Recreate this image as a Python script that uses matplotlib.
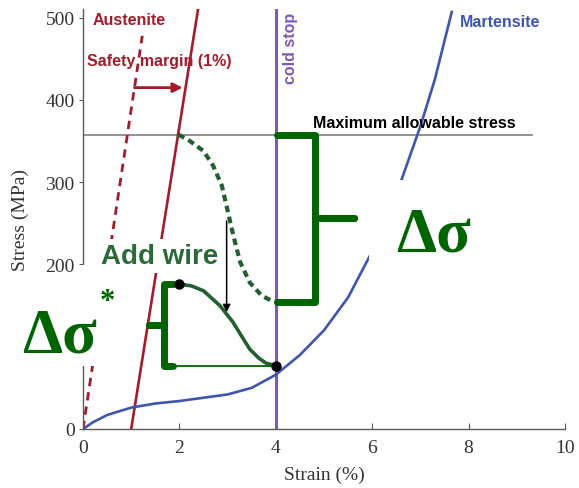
import matplotlib
matplotlib.use("Agg")
import matplotlib.pyplot as plt
from matplotlib.patches import Rectangle

# ---- data -------------------------------------------------------------
# Martensite stress-strain curve
mart_strain = [0, 0.2, 0.5, 1.0, 1.5, 2.0, 2.5, 3.0, 3.5, 4.0, 4.5, 5.0,
               5.5, 6.0, 6.5, 7.0, 7.3, 7.65]
mart_stress = [0, 8, 17, 26, 31, 34, 38, 42, 50, 66, 90, 120,
               160, 216, 285, 368, 425, 507]

# Austenite (shifted by the 1 % safety margin) and original austenite line
aust_strain = [1.0, 2.386]
aust_stress = [0, 510]
aust0_strain = [0, 1.23]
aust0_stress = [0, 478]

# Unloading path without the added wire (dashed)
path_strain = [1.98, 2.22, 2.5, 2.7, 2.88, 3.01, 3.12, 3.26, 3.46, 3.71, 3.91, 4.0]
path_stress = [358, 350, 338, 320, 296, 263, 235, 203, 178, 162, 156, 155]

# Unloading path with the added wire (solid)
wire_strain = [2.0, 2.25, 2.5, 2.84, 3.11, 3.3, 3.46, 3.65, 3.8, 4.0]
wire_stress = [176, 174, 168, 150, 130, 112, 97, 86, 80, 77]

max_stress = 358      # maximum allowable stress (MPa)
cold_stop = 4.0       # cold stop strain (%)
margin_stress = 415   # level of the safety-margin arrow
add_arrow_x = 2.98
add_arrow_stress = [253, 142]

xticks = [0, 2, 4, 6, 8, 10]
yticks = [0, 100, 200, 300, 400, 500]
ytick_labels = ["0", "", "200", "300", "400", "500"]

# ---- styling ----------------------------------------------------------
RED = "#a31c2b"
BLUE = "#3f55b0"
PURPLE = "#8058b8"
GREEN = "#006400"
DKGREEN = "#235f30"
TXTGREEN = "#2b6a36"
SERIF = ["Liberation Serif", "DejaVu Serif"]
SANS = ["Liberation Sans", "DejaVu Sans"]

fig = plt.figure(figsize=(5.79, 4.89), dpi=100)
ax = fig.add_axes([83 / 579, 1 - 430 / 489, 482 / 579, 0.8579])
ax.set_xlim(0, 10)
ax.set_ylim(0, 510)

for s in ("top", "right"):
    ax.spines[s].set_visible(False)
for s in ("left", "bottom"):
    ax.spines[s].set_color("#5a5a5a")
    ax.spines[s].set_linewidth(1.0)

ax.set_xticks(xticks)
ax.set_yticks(yticks)
ax.set_yticklabels(ytick_labels)
ax.tick_params(axis="x", direction="in", length=4, color="#5a5a5a",
               labelsize=14, labelcolor="#333333", pad=7)
ax.tick_params(axis="y", direction="out", length=3, color="#5a5a5a",
               labelsize=14, labelcolor="#333333", pad=3)
for lab in ax.get_xticklabels() + ax.get_yticklabels():
    lab.set_family(SERIF)
ax.set_xlabel("Strain (%)", family=SERIF, fontsize=14, color="#333333", labelpad=7)
ax.set_ylabel("Stress (MPa)", family=SERIF, fontsize=14, color="#333333", labelpad=12)

# maximum allowable stress
ax.plot([0, 9.32], [max_stress, max_stress], color="#7f7f7f", lw=1.2, zorder=1)

# cold stop
ax.axvline(cold_stop, color=PURPLE, lw=2.2, zorder=2)

# austenite lines
ax.plot(aust_strain, aust_stress, color=RED, lw=1.9, zorder=2)
ax.plot(aust0_strain, aust0_stress, color=RED, lw=2.0, ls=(0, (3, 2.2)), zorder=2)

# martensite curve
ax.plot(mart_strain, mart_stress, color=BLUE, lw=1.9, zorder=2)

# unloading paths
ax.plot(path_strain, path_stress, color=DKGREEN, lw=3.0, ls=(0, (1.6, 1.1)), zorder=3)
ax.plot(wire_strain, wire_stress, color=DKGREEN, lw=2.6, zorder=3)
ax.plot([1.85, wire_strain[-1]], [wire_stress[-1], wire_stress[-1]],
        color=GREEN, lw=1.3, zorder=3)
ax.plot([wire_strain[0], wire_strain[-1]], [wire_stress[0], wire_stress[-1]],
        ls="none", marker="o", ms=6.5, color="black", zorder=6)

# safety margin arrow (from original to shifted austenite line)
e0 = aust0_stress[1] / aust0_strain[1]
e1 = aust_stress[1] / (aust_strain[1] - aust_strain[0])
ax.annotate("", xy=(aust_strain[0] + margin_stress / e1 - 0.06, margin_stress),
            xytext=(margin_stress / e0, margin_stress),
            arrowprops=dict(arrowstyle="-|>", color=RED, lw=2.0,
                            mutation_scale=14, shrinkA=0, shrinkB=0), zorder=4)

# arrow showing the effect of the added wire
ax.annotate("", xy=(add_arrow_x, add_arrow_stress[1]),
            xytext=(add_arrow_x, add_arrow_stress[0]),
            arrowprops=dict(arrowstyle="-|>", color="black", lw=1.1,
                            mutation_scale=11, shrinkA=0, shrinkB=0), zorder=4)


def brace(x_open, x_spine, x_nub, top, bottom):
    mid = (top + bottom) / 2
    xs = [x_open, x_spine, x_spine, x_nub, x_spine, x_spine, x_open]
    ys = [top, top, mid, mid, mid, bottom, bottom]
    ax.plot(xs, ys, color=GREEN, lw=5.0, solid_joinstyle="round",
            solid_capstyle="round", zorder=5, clip_on=False)


# large brace: stress range between max stress and the dashed path end
brace(cold_stop + 0.03, 4.81, 5.62, max_stress, path_stress[-1])
# small brace: stress range of the added-wire path
brace(1.87, 1.68, 1.36, wire_stress[0], wire_stress[-1])

# white panels behind the left delta-sigma label
ax.add_patch(Rectangle((-1.75, 77), 2.24, 112, facecolor="white",
                       edgecolor="none", zorder=5, clip_on=False))
ax.add_patch(Rectangle((-0.1, 77), 0.6, 122, facecolor="white",
                       edgecolor="none", zorder=5, clip_on=False))

# ---- text -------------------------------------------------------------
ax.text(0.2, 498, "Austenite", color=RED, fontsize=11.5, fontweight="bold",
        family=SANS, va="center", ha="left", zorder=6)
ax.text(0.09, 448, "Safety margin (1%)", color=RED, fontsize=11.5,
        fontweight="bold", family=SANS, va="center", ha="left", zorder=6)
ax.text(7.82, 495, "Martensite", color=BLUE, fontsize=11.5, fontweight="bold",
        family=SANS, va="center", ha="left", zorder=6)
ax.text(4.78, 373, "Maximum allowable stress", color="black", fontsize=11.5,
        fontweight="bold", family=SANS, va="center", ha="left", zorder=6)
ax.text(4.30, 507, "cold stop", color=PURPLE, fontsize=11.5, fontweight="bold",
        family=SANS, va="top", ha="center", rotation=90, zorder=6)
ax.text(1.58, 210, "Add wire", color=TXTGREEN, fontsize=20, fontweight="bold",
        family=SANS, va="center", ha="center", zorder=6,
        bbox=dict(facecolor="white", edgecolor="none", pad=3))
ax.text(7.27, 235, "Δσ", color=GREEN, fontsize=46, fontweight="bold",
        family=SERIF, va="center", ha="center", zorder=6,
        bbox=dict(facecolor="white", edgecolor="none", boxstyle="square,pad=0.42"))
ax.text(-0.48, 112, "Δσ", color=GREEN, fontsize=46, fontweight="bold",
        family=SERIF, va="center", ha="center", zorder=7, clip_on=False)
ax.text(0.50, 155, "*", color=GREEN, fontsize=22, fontweight="bold",
        family=SERIF, va="center", ha="center", zorder=7, clip_on=False)

fig.savefig("out.png", dpi=100)
